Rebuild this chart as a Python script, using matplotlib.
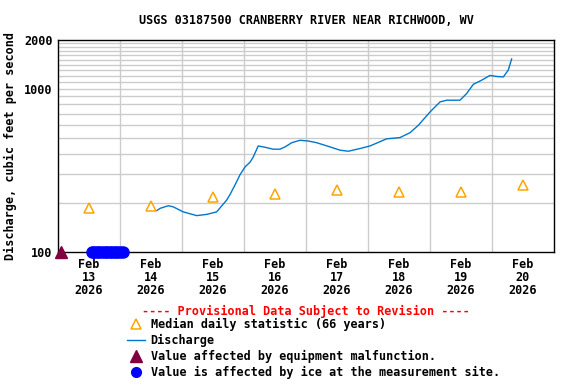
import numpy as np
import matplotlib
matplotlib.use('Agg')
import matplotlib.pyplot as plt
from matplotlib.lines import Line2D

plt.rcParams['font.family'] = 'DejaVu Sans Mono'
plt.rcParams['font.weight'] = 'bold'

# hours after Feb 13 00:00 and discharge (cfs)
q_hours = [38.2, 39.5, 42.7, 44.6, 48.5, 53.7, 57.6, 61.4, 65.3, 66.6, 68.5, 70.5,
           72.4, 74.3, 75.6, 77.5, 80.1, 83.3, 85.9, 87.9, 90.5, 93.7, 96.9, 100.1,
           105.3, 109.2, 112.4, 116.9, 120.8, 127.2, 132.4, 136.3, 139.5, 144.0,
           147.9, 150.5, 155.6, 158.2, 160.8, 164.0, 167.2, 169.8, 172.4, 174.3, 175.6]
q_cfs = [179, 185, 192, 189, 176, 167, 170, 176, 208, 225, 257, 298,
         332, 354, 382, 446, 438, 426, 426, 440, 467, 483, 478, 467,
         440, 420, 414, 430, 446, 493, 502, 538, 597, 720,
         830, 850, 850, 934, 1064, 1127, 1205, 1188, 1180, 1300, 1520]

# median daily statistic, at noon of each day
med_days = [0.5, 1.5, 2.5, 3.5, 4.5, 5.5, 6.5, 7.5]
med_cfs = [185, 192, 216, 225, 241, 233, 233, 256]

# qualifier markers (drawn at the bottom of the axis)
equip_hours = [1.0]
ice_hours = [13, 14, 15, 16, 17, 18, 19, 20, 21, 22, 23, 24, 25]

tick_labels = ['Feb\n13\n2026', 'Feb\n14\n2026', 'Feb\n15\n2026', 'Feb\n16\n2026',
               'Feb\n17\n2026', 'Feb\n18\n2026', 'Feb\n19\n2026', 'Feb\n20\n2026']

fig = plt.figure(figsize=(5.76, 3.84), dpi=100)
ax = fig.add_axes([58/576, 1-252/384, (554-58)/576, (252-39.5)/384])

ax.set_yscale('log')
ax.set_ylim(100, 2000)
ax.set_xlim(0, 8)

# grid
for d in range(1, 8):
    ax.axvline(d, color='#cccccc', lw=1, zorder=0)
for v in list(range(200, 1000, 100)) + list(range(1000, 2000, 100)):
    ax.axhline(v, color='#cccccc', lw=1, zorder=0)

ax.plot(np.array(q_hours)/24, q_cfs, color='#0077cc', lw=1, zorder=3)
ax.plot(med_days, med_cfs, linestyle='none', marker='^', markersize=7,
        markerfacecolor='none', markeredgecolor='#ffa500', markeredgewidth=1.1, zorder=4)
ax.plot(np.array(ice_hours)/24, [100]*len(ice_hours), linestyle='none', marker='o',
        markersize=8, color='#0000ff', clip_on=False, zorder=5)
ax.plot(np.array(equip_hours)/24, [100]*len(equip_hours), linestyle='none', marker='^',
        markersize=9, color='#800040', clip_on=False, zorder=6)

ax.yaxis.set_major_locator(matplotlib.ticker.FixedLocator([100, 1000, 2000]))
ax.yaxis.set_minor_locator(matplotlib.ticker.NullLocator())
ax.set_yticklabels(['100', '1000', '2000'], fontsize=8.5, fontweight='bold')
ax.set_xticks(med_days)
ax.set_xticklabels(tick_labels, fontsize=8.5, fontweight='bold', linespacing=1.0)
ax.tick_params(axis='both', length=0, pad=4)
for s in ax.spines.values():
    s.set_linewidth(1)

ax.set_ylabel('Discharge, cubic feet per second', fontsize=8.5, fontweight='bold', labelpad=5)
fig.text(306/576, 1-20/384, 'USGS 03187500 CRANBERRY RIVER NEAR RICHWOOD, WV',
         ha='center', va='center', fontsize=8.5, fontweight='bold')
fig.text(306/576, 1-311/384, '---- Provisional Data Subject to Revision ----',
         ha='center', va='center', fontsize=8.5, fontweight='bold', color='#ff0000')

handles = [
    Line2D([], [], linestyle='none', marker='^', markersize=7, markerfacecolor='none',
           markeredgecolor='#ffa500', markeredgewidth=1.1),
    Line2D([], [], color='#0077cc', lw=1),
    Line2D([], [], linestyle='none', marker='^', markersize=9, color='#800040'),
    Line2D([], [], linestyle='none', marker='o', markersize=7, color='#0000ff'),
]
labels = ['Median daily statistic (66 years)', 'Discharge',
          'Value affected by equipment malfunction.',
          'Value is affected by ice at the measurement site.']
fig.legend(handles, labels, loc='upper left', bbox_to_anchor=(127/576, 1-318/384),
           frameon=False, fontsize=8.5, handlelength=1.5, handletextpad=0.5,
           labelspacing=0.25, borderpad=0, borderaxespad=0)

fig.savefig('out.png', dpi=100)
